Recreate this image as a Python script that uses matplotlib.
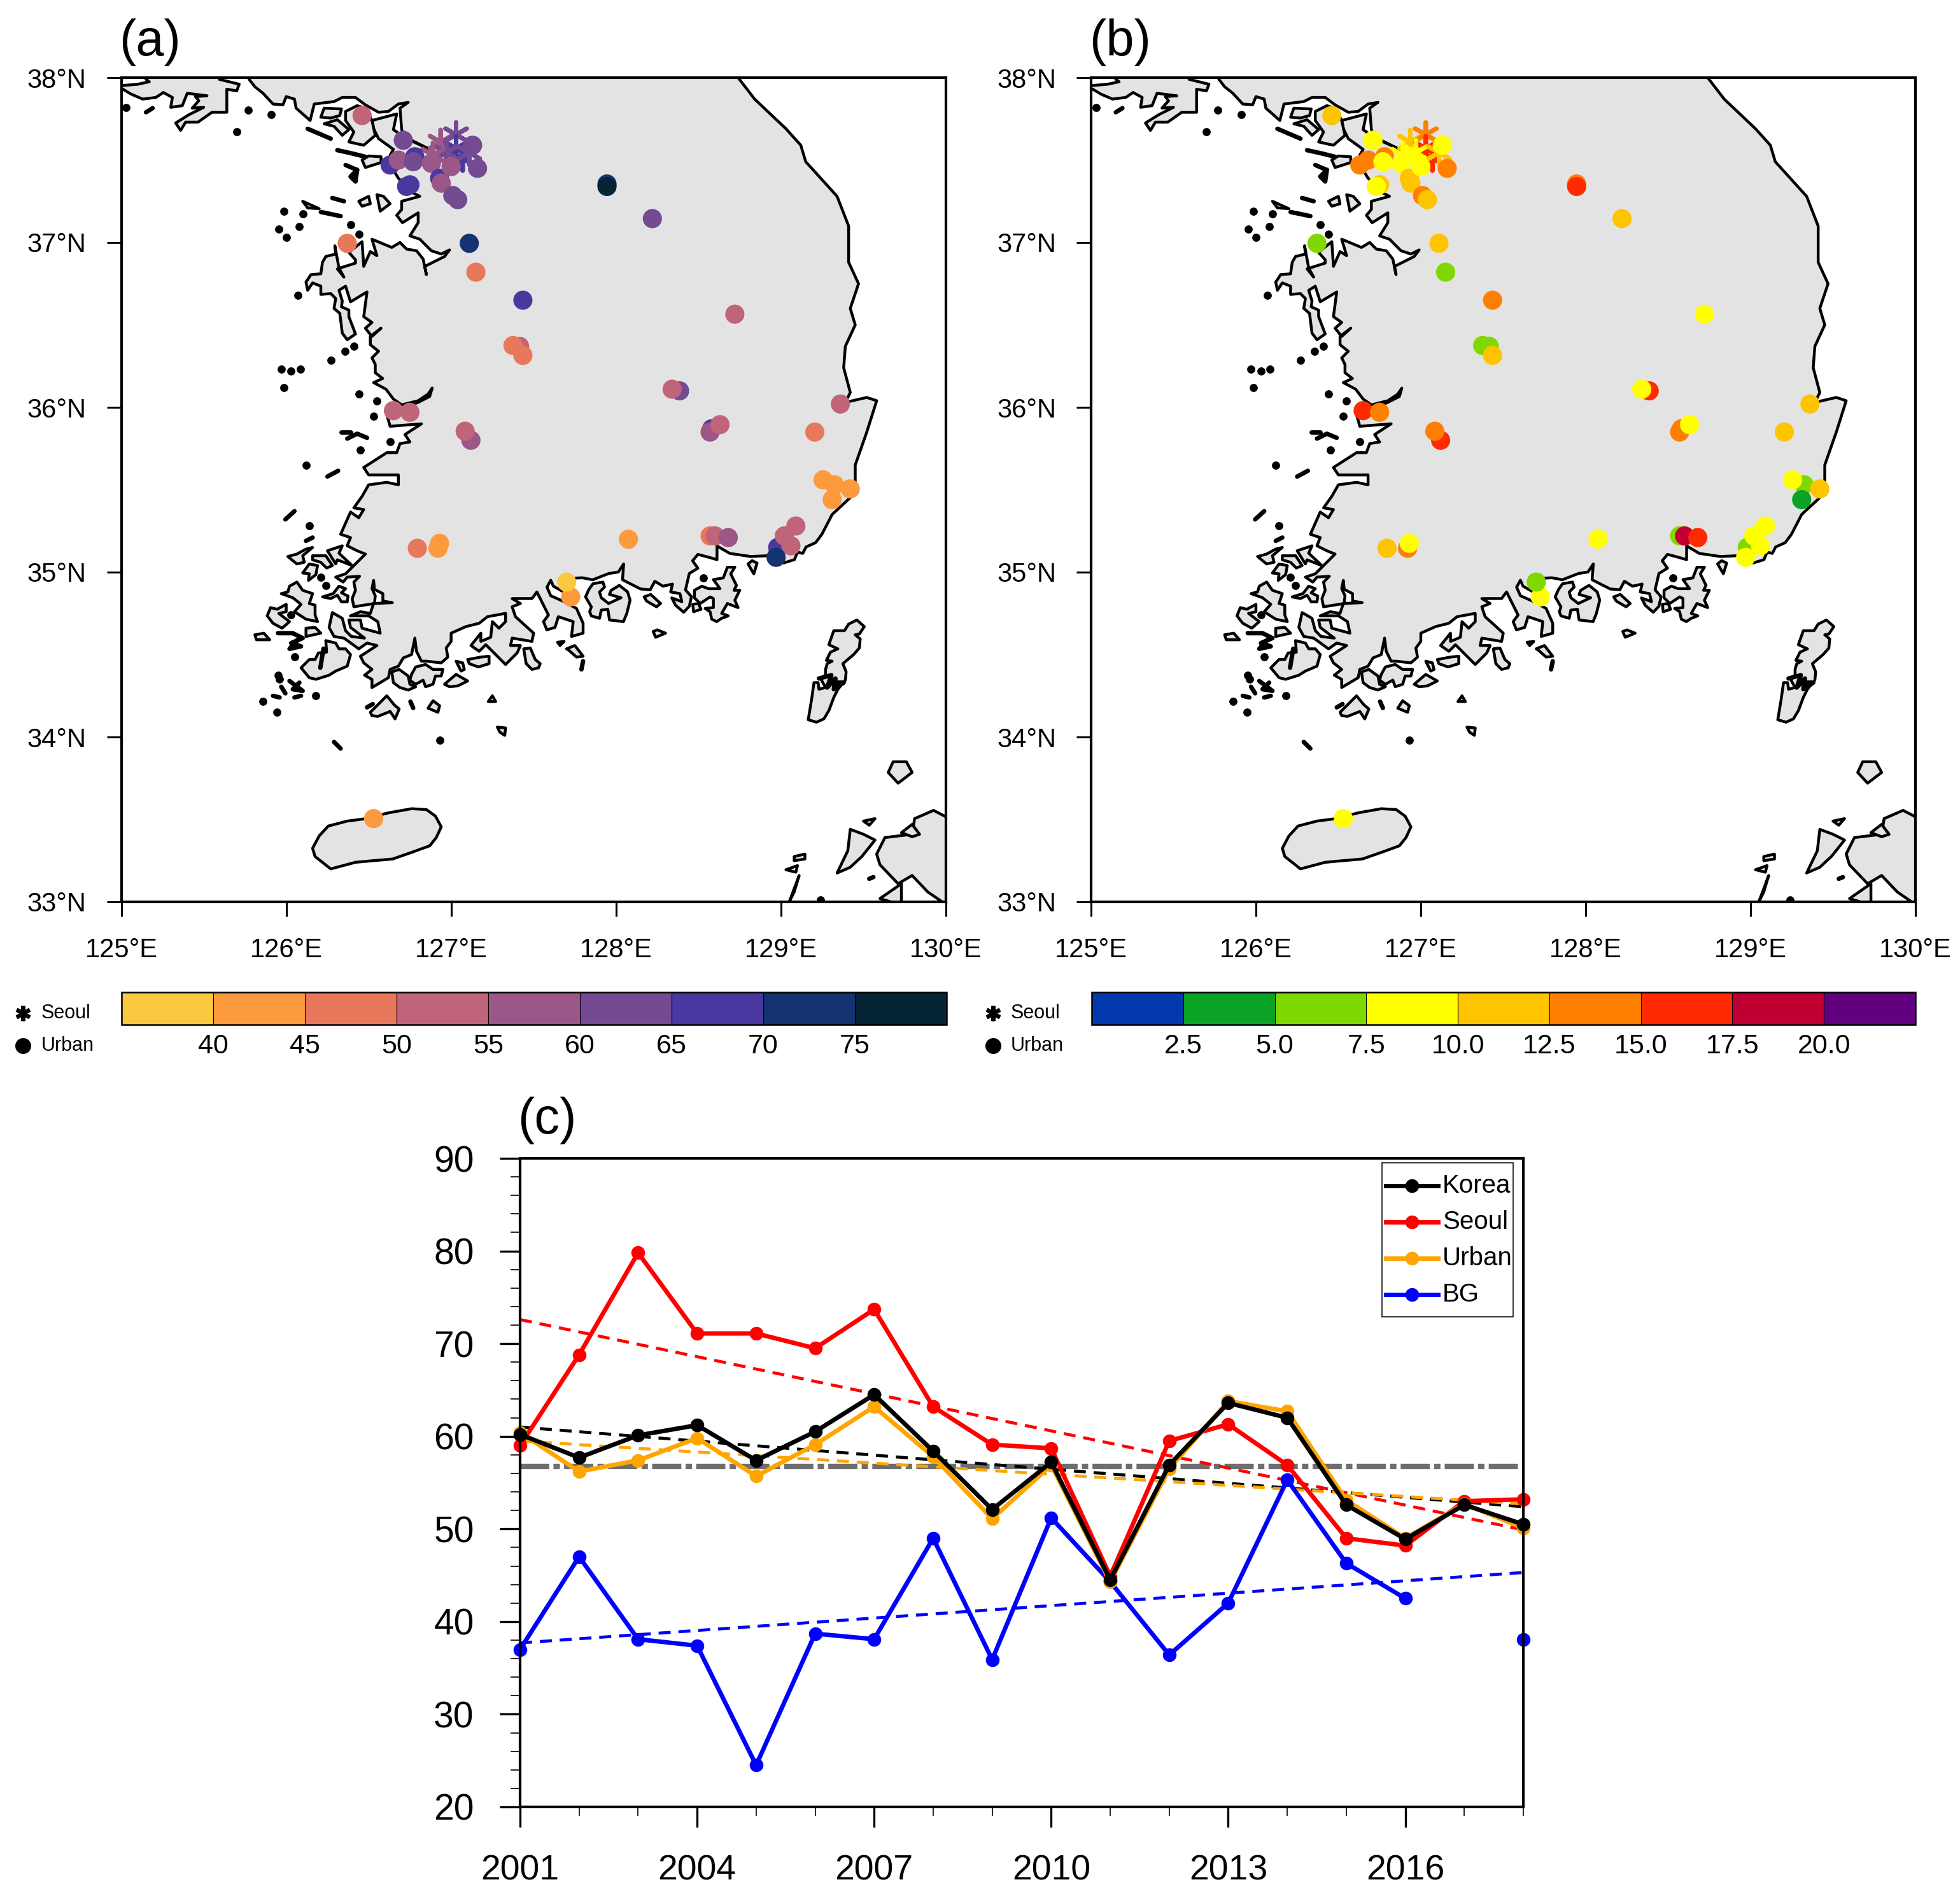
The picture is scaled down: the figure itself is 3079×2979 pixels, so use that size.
import numpy as np
import matplotlib
matplotlib.use('Agg')
import matplotlib.pyplot as plt
from matplotlib.colors import ListedColormap, BoundaryNorm
from matplotlib.colorbar import Colorbar
from matplotlib.lines import Line2D
from matplotlib.patches import Rectangle

plt.rcParams['font.family'] = ['Liberation Sans', 'DejaVu Sans']

W, H = 3079, 2979

# stations: lon, lat, panel a value, panel b value
station_lon = [126.46,126.71,126.63,126.68,126.78,126.77,126.88,126.75,126.73,126.93,126.94,127.00,127.01,127.04,127.13,127.16,
               127.945,127.945,128.22,127.11,126.37,127.15,127.435,128.72,127.415,127.375,127.435,128.385,128.34,129.36,
               126.65,126.75,127.12,127.085,128.58,128.57,128.63,129.205,129.325,129.255,129.42,129.31,
               128.98,129.09,129.02,129.06,128.97,128.075,128.57,128.60,128.68,126.795,126.92,126.93,127.725,127.70,126.53]
station_lat = [37.77,37.62,37.47,37.50,37.52,37.49,37.48,37.35,37.34,37.39,37.36,37.46,37.285,37.26,37.59,37.45,
               37.355,37.34,37.145,36.995,36.995,36.82,36.65,36.565,36.37,36.375,36.315,36.10,36.11,36.02,
               35.98,35.97,35.80,35.855,35.87,35.85,35.895,35.85,35.53,35.56,35.505,35.44,
               35.15,35.28,35.22,35.16,35.09,35.20,35.22,35.22,35.21,35.145,35.145,35.175,34.85,34.94,33.505]
station_a = [52.5,62.5,67.5,57.5,67.5,62.5,57.5,67.5,67.5,67.5,57.5,57.5,62.5,62.5,62.5,62.5,
             72.5,77.5,62.5,72.5,47.5,47.5,67.5,52.5,52.5,47.5,47.5,62.5,52.5,52.5,
             52.5,52.5,57.5,52.5,67.5,57.5,52.5,47.5,42.5,42.5,42.5,42.5,
             67.5,52.5,52.5,52.5,72.5,42.5,47.5,52.5,57.5,47.5,42.5,42.5,42.5,37.5,42.5]
station_b = [11.2,8.8,13.8,13.8,13.8,8.8,8.8,11.2,8.8,11.2,11.2,8.8,13.8,11.2,8.8,13.8,
             13.8,16.2,11.2,11.2,6.2,6.2,13.8,8.8,6.2,6.2,11.2,16.2,8.8,11.2,
             16.2,13.8,16.2,13.8,13.8,13.8,8.8,11.2,6.2,8.8,11.2,3.8,
             6.2,8.8,8.8,8.8,8.8,8.8,6.2,18.8,16.2,11.2,13.8,8.8,8.8,6.2,8.8]

seoul_lon = [126.936,127.03,127.03,127.07,126.97,126.89,127.11]
seoul_lat = [37.609,37.654,37.57,37.51,37.545,37.53,37.545]
seoul_a = [57.5,62.5,67.5,67.5,62.5,57.5,62.5]
seoul_b = [11.2,13.8,16.2,16.2,8.8,8.8,11.2]

bounds_a = [35,40,45,50,55,60,65,70,75,80]
colors_a = ['#F9C940','#FD9A3E','#E8785B','#C06479','#9A5788','#744A92','#4B37A0','#143370','#052435']
ticks_a = [40,45,50,55,60,65,70,75]
bounds_b = [0,2.5,5,7.5,10,12.5,15,17.5,20,22.5]
colors_b = ['#0339AE','#0AA325','#7FD800','#FFFF00','#FFC400','#FF8000','#FF2A00','#C00033','#620080']
ticks_b = [2.5,5,7.5,10,12.5,15,17.5,20]

# coastlines, lon/lat
korea_coast = [(128.74,38.05),(128.74,38.0),(128.84,37.87),(129.03,37.69),(129.12,37.59),(129.15,37.49),(129.34,37.28),(129.41,37.10),
 (129.41,36.88),(129.47,36.75),(129.42,36.60),(129.45,36.50),(129.39,36.37),(129.38,36.24),(129.42,36.09),(129.39,36.03),
 (129.52,36.06),(129.58,36.04),(129.52,35.85),(129.45,35.65),(129.45,35.48),(129.31,35.35),(129.248,35.23),(129.21,35.179),
 (129.152,35.153),(129.132,35.114),(129.10,35.121),(129.081,35.076),(129.017,35.056),(128.946,35.101),(128.817,35.095),
 (128.689,35.114),(128.612,35.159),(128.612,35.076),(128.56,35.091),(128.496,35.108),(128.464,35.069),(128.496,35.024),
 (128.444,34.992),(128.421,34.893),(128.457,34.851),(128.444,34.793),(128.41,34.757),(128.361,34.799),(128.338,34.844),
 (128.399,34.821),(128.387,34.87),(128.331,34.88),(128.342,34.928),(128.284,34.915),(128.235,34.945),(128.207,34.893),
 (128.149,34.898),(128.039,34.954),(128.046,35.05),(128.014,35.001),(127.956,34.992),(127.859,34.954),(127.795,34.966),
 (127.753,34.964),(127.676,34.883),(127.62,34.915),(127.604,34.951),(127.581,34.909),(127.604,34.857),(127.676,34.825),
 (127.76,34.78),(127.80,34.69),(127.80,34.63),(127.73,34.61),(127.74,34.70),(127.65,34.73),(127.63,34.665),(127.58,34.65),
 (127.56,34.70),(127.59,34.74),(127.52,34.88),(127.49,34.84),(127.37,34.84),(127.42,34.81),(127.37,34.79),(127.39,34.73),
 (127.50,34.63),(127.49,34.58),(127.37,34.60),(127.36,34.555),(127.42,34.555),(127.40,34.51),(127.33,34.44),(127.21,34.56),
 (127.17,34.52),(127.12,34.555),(127.18,34.63),(127.18,34.58),(127.24,34.605),(127.25,34.70),(127.29,34.66),(127.33,34.70),
 (127.33,34.75),(127.22,34.73),(127.17,34.69),(127.09,34.67),(127.00,34.63),(127.00,34.58),(126.97,34.54),(126.98,34.485),
 (126.94,34.45),(126.85,34.46),(126.82,34.46),(126.79,34.52),(126.78,34.60),(126.76,34.50),(126.71,34.48),(126.68,34.43),
 (126.63,34.41),(126.62,34.36),(126.52,34.30),(126.52,34.35),(126.475,34.375),(126.52,34.41),(126.47,34.45),(126.45,34.49),
 (126.55,34.555),(126.49,34.57),(126.44,34.535),(126.35,34.60),(126.29,34.61),(126.26,34.665),(126.28,34.755),(126.34,34.72),
 (126.36,34.645),(126.395,34.61),(126.475,34.60),(126.39,34.665),(126.38,34.71),(126.45,34.71),(126.46,34.66),(126.57,34.63),
 (126.555,34.70),(126.50,34.735),(126.39,34.735),(126.45,34.76),(126.51,34.75),(126.53,34.81),(126.644,34.815),(126.586,34.825),
 (126.586,34.87),(126.535,34.896),(126.53,34.95),(126.52,34.90),(126.54,34.857),(126.535,34.81),(126.41,34.79),(126.40,34.84),
 (126.42,34.89),(126.41,34.94),(126.445,34.975),(126.37,34.97),(126.345,34.94),(126.30,34.97),(126.36,34.99),(126.39,35.02),
 (126.48,35.11),(126.43,35.13),(126.37,35.16),(126.39,35.21),(126.33,35.23),(126.39,35.365),(126.44,35.33),(126.47,35.38),
 (126.41,35.39),(126.46,35.46),(126.50,35.53),(126.61,35.545),(126.68,35.53),(126.68,35.59),(126.50,35.59),(126.47,35.635),
 (126.61,35.725),(126.67,35.725),(126.69,35.78),(126.75,35.79),(126.72,35.835),(126.82,35.90),(126.63,35.885),(126.61,35.955),
 (126.71,35.995),(126.80,36.03),(126.87,36.066),(126.885,36.117),(126.86,36.08),(126.80,36.04),(126.70,36.015),(126.65,36.05),
 (126.605,36.11),(126.53,36.15),(126.585,36.175),(126.54,36.21),(126.54,36.26),(126.52,36.30),(126.56,36.34),(126.51,36.38),
 (126.51,36.43),(126.575,36.48),(126.52,36.43),(126.48,36.48),(126.52,36.515),(126.47,36.55),(126.49,36.70),(126.39,36.64),
 (126.36,36.735),(126.32,36.71),(126.34,36.645),(126.335,36.61),(126.38,36.59),(126.38,36.55),(126.42,36.445),(126.37,36.41),
 (126.34,36.45),(126.325,36.57),(126.29,36.60),(126.30,36.66),(126.27,36.69),(126.21,36.685),(126.21,36.735),(126.16,36.755),
 (126.13,36.71),(126.12,36.76),(126.15,36.805),(126.21,36.81),(126.22,36.88),(126.24,36.915),(126.30,36.93),(126.295,36.98),
 (126.32,36.845),(126.35,36.79),(126.31,36.84),(126.42,36.875),(126.42,36.895),(126.38,36.94),(126.46,37.005),(126.47,36.855),
 (126.51,36.945),(126.55,36.92),(126.52,37.02),(126.64,36.97),(126.69,37.00),(126.73,36.96),(126.79,36.95),(126.83,36.90),
 (126.85,36.805),(126.84,36.855),(126.89,36.88),(126.96,36.915),(126.99,36.955),(126.94,36.93),(126.88,36.95),(126.81,37.02),
 (126.75,37.04),(126.80,37.12),(126.80,37.18),(126.705,37.12),(126.67,37.165),(126.70,37.20),(126.70,37.25),(126.81,37.28),
 (126.77,37.30),(126.68,37.39),(126.64,37.455),(126.63,37.53),(126.65,37.565),(126.56,37.63),(126.53,37.69),(126.52,37.74),
 (126.67,37.78),(126.65,37.685),(126.72,37.635),(126.87,37.565),(126.72,37.64),(126.70,37.685),(126.69,37.815),(126.74,37.85),
 (126.68,37.84),(126.62,37.795),(126.56,37.79),(126.48,37.835),(126.42,37.88),(126.34,37.88),(126.29,37.855),(126.17,37.84),
 (126.145,37.74),(126.06,37.815),(126.05,37.87),(126.00,37.885),(125.98,37.835),(125.92,37.84),(125.86,37.905),(125.81,37.945),
 (125.775,37.99),(125.77,38.05)]

north_land = [(125.594,38.05),(125.594,37.99),(125.715,37.96),(125.70,37.92),(125.64,37.93),(125.64,37.79),(125.55,37.79),(125.465,37.73),
 (125.39,37.73),(125.36,37.68),(125.33,37.725),(125.41,37.775),(125.50,37.82),(125.43,37.815),(125.47,37.86),(125.45,37.885),
 (125.52,37.89),(125.40,37.905),(125.37,37.83),(125.30,37.82),(125.31,37.88),(125.255,37.91),(125.21,37.88),(125.13,37.87),
 (125.06,37.90),(125.01,37.93),(124.98,37.935),(124.98,37.95),(125.10,37.96),(125.17,37.975),(125.15,37.99),(125.15,38.05)]

islands = [
 [(126.52,37.74),(126.54,37.65),(126.47,37.59),(126.38,37.61),(126.41,37.67),(126.36,37.74),(126.36,37.795),(126.43,37.83),(126.48,37.815)],
 [(126.21,37.76),(126.23,37.815),(126.335,37.81),(126.325,37.77),(126.27,37.755)],
 [(126.23,37.72),(126.31,37.745),(126.38,37.685),(126.34,37.65),(126.29,37.705)],
 [(126.50,37.525),(126.575,37.52),(126.575,37.485),(126.48,37.455),(126.46,37.50)],
 [(126.44,37.25),(126.50,37.28),(126.51,37.235),(126.46,37.22)],
 [(126.55,37.29),(126.59,37.28),(126.63,37.235),(126.57,37.19)],
 [(126.10,37.25),(126.20,37.205),(126.13,37.21)],
 [(126.25,35.13),(126.34,35.16),(126.32,35.115),(126.40,35.04),(126.31,35.075),(126.30,35.05)],
 [(126.01,35.095),(126.065,35.11),(126.12,35.14),(126.16,35.15),(126.10,35.10),(126.11,35.06),(126.065,35.05),(126.04,35.07)],
 [(126.16,35.10),(126.24,35.10),(126.28,35.04),(126.245,35.025),(126.21,35.06),(126.16,35.075)],
 [(126.10,34.995),(126.14,35.05),(126.19,35.04),(126.18,34.985),(126.135,34.95),(126.14,34.99)],
 [(126.22,34.85),(126.285,34.87),(126.32,34.915),(126.36,34.90),(126.335,34.875),(126.375,34.855),(126.37,34.82),(126.335,34.82),(126.31,34.86),(126.27,34.84)],
 [(125.97,34.87),(126.01,34.88),(126.02,34.915),(126.065,34.94),(126.10,34.89),(126.16,34.87),(126.14,34.81),(126.175,34.80),(126.175,34.74),(126.19,34.70),(126.12,34.715),(126.05,34.76),(126.09,34.805),(126.04,34.845)],
 [(125.885,34.735),(125.905,34.785),(125.945,34.775),(126.00,34.805),(126.00,34.76),(125.955,34.75),(126.02,34.70),(125.975,34.66),(125.92,34.69)],
 [(126.12,34.61),(126.12,34.66),(126.175,34.665),(126.21,34.63)],
 [(126.09,34.42),(126.14,34.47),(126.175,34.47),(126.195,34.51),(126.245,34.515),(126.24,34.585),(126.30,34.57),(126.32,34.535),(126.36,34.535),(126.39,34.50),(126.37,34.43),(126.30,34.40),(126.26,34.375),(126.18,34.35),(126.14,34.36),(126.115,34.39)],
 [(125.81,34.62),(125.865,34.63),(125.90,34.59),(125.82,34.59)],
 [(126.64,34.395),(126.685,34.41),(126.74,34.37),(126.75,34.32),(126.785,34.305),(126.74,34.285),(126.69,34.30),(126.65,34.33)],
 [(126.76,34.38),(126.785,34.425),(126.845,34.44),(126.89,34.41),(126.95,34.41),(126.94,34.37),(126.905,34.37),(126.89,34.32),(126.845,34.305),(126.83,34.345),(126.785,34.32),(126.75,34.345)],
 [(126.96,34.32),(127.03,34.38),(127.10,34.34),(127.04,34.31),(126.99,34.305)],
 [(127.03,34.46),(127.07,34.45),(127.08,34.41),(127.06,34.40)],
 [(127.10,34.47),(127.18,34.485),(127.23,34.49),(127.23,34.445),(127.165,34.425),(127.11,34.445)],
 [(127.44,34.535),(127.48,34.54),(127.51,34.47),(127.54,34.445),(127.53,34.42),(127.49,34.41),(127.455,34.445)],
 [(127.645,34.575),(127.685,34.58),(127.66,34.555)],
 [(127.70,34.535),(127.75,34.555),(127.80,34.49),(127.76,34.485),(127.715,34.525)],
 [(126.51,34.15),(126.56,34.20),(126.61,34.25),(126.655,34.195),(126.685,34.17),(126.66,34.11),(126.63,34.155),(126.555,34.125),(126.52,34.13)],
 [(126.86,34.175),(126.89,34.22),(126.93,34.19),(126.92,34.15)],
 [(127.225,34.215),(127.25,34.25),(127.27,34.215)],
 [(127.28,34.06),(127.33,34.055),(127.325,34.01),(127.295,34.03)],
 [(127.86,34.93),(127.92,34.94),(127.93,34.91),(127.90,34.88),(127.91,34.845),(127.955,34.81),(128.03,34.845),(127.96,34.865),(127.97,34.89),(128.02,34.92),(128.07,34.88),(128.085,34.83),(128.065,34.75),(128.045,34.70),(127.96,34.71),(127.95,34.775),(127.91,34.77),(127.90,34.72),(127.85,34.735),(127.84,34.76),(127.85,34.79),(127.815,34.85),(127.835,34.895)],
 [(128.675,35.03),(128.72,35.03),(128.695,34.99),(128.73,34.92),(128.715,34.89),(128.75,34.89),(128.72,34.83),(128.74,34.785),(128.675,34.81),(128.64,34.75),(128.68,34.735),(128.64,34.72),(128.61,34.70),(128.58,34.715),(128.57,34.76),(128.54,34.78),(128.59,34.785),(128.59,34.84),(128.57,34.85),(128.51,34.81),(128.475,34.845),(128.475,34.89),(128.52,34.915),(128.56,34.90),(128.63,34.90),(128.59,34.955),(128.65,34.965)],
 [(128.465,34.805),(128.50,34.81),(128.515,34.775),(128.47,34.76)],
 [(128.825,35.07),(128.855,35.055),(128.835,34.99),(128.80,35.05)],
 [(128.17,34.85),(128.21,34.865),(128.27,34.81),(128.245,34.79),(128.185,34.825)],
 [(128.225,34.64),(128.25,34.65),(128.30,34.63),(128.24,34.605)],
 [(129.165,34.105),(129.185,34.225),(129.20,34.33),(129.225,34.33),(129.23,34.29),(129.27,34.30),(129.24,34.355),(129.27,34.375),(129.27,34.41),(129.28,34.445),(129.31,34.46),(129.275,34.465),(129.30,34.515),(129.345,34.535),(129.29,34.56),(129.32,34.645),(129.385,34.645),(129.41,34.685),(129.46,34.71),(129.505,34.67),(129.475,34.625),(129.45,34.62),(129.48,34.595),(129.475,34.54),(129.44,34.50),(129.375,34.445),(129.395,34.395),(129.39,34.345),(129.345,34.29),(129.32,34.24),(129.29,34.16),(129.26,34.11),(129.215,34.09)],
 [(129.65,33.785),(129.68,33.85),(129.76,33.85),(129.795,33.785),(129.71,33.72)],
 [(130.05,33.49),(129.925,33.555),(129.81,33.505),(129.795,33.41),(129.63,33.39),(129.58,33.29),(129.60,33.225),(129.71,33.11),(129.795,33.16),(129.89,33.06),(130.05,32.95)],
 [(129.42,33.44),(129.50,33.41),(129.57,33.375),(129.49,33.275),(129.42,33.21),(129.34,33.175),(129.405,33.31)],
 [(129.50,33.49),(129.57,33.505),(129.535,33.465)],
 [(129.73,33.42),(129.795,33.47),(129.84,33.41),(129.795,33.395)],
 [(129.05,33.0),(129.11,33.16),(129.08,33.06)],
 [(129.08,33.275),(129.145,33.29),(129.145,33.26),(129.08,33.25)],
 [(129.03,33.195),(129.10,33.22),(129.09,33.18)],
 [(129.60,33.02),(129.73,33.11),(129.73,32.98)],
 [(126.16,33.325),(126.20,33.40),(126.255,33.46),(126.37,33.49),(126.485,33.505),(126.62,33.54),(126.76,33.565),(126.85,33.56),(126.905,33.52),(126.94,33.455),(126.91,33.39),(126.87,33.34),(126.76,33.30),(126.645,33.26),(126.53,33.25),(126.42,33.24),(126.27,33.20),(126.175,33.275)],
]

islet_lines = [
 [(126.31,37.56),(126.40,37.54),(126.48,37.52)],
 [(126.13,37.69),(126.20,37.66),(126.27,37.63)],
 [(126.36,37.47),(126.43,37.44),(126.42,37.37),(126.39,37.40),(126.43,37.44)],
 [(126.28,37.27),(126.35,37.25)],
 [(126.21,37.185),(126.33,37.16)],
 [(125.19,37.815),(125.15,37.79)],
 [(126.25,35.58),(126.315,35.615)],
 [(125.995,35.32),(126.05,35.37)],
 [(126.12,35.19),(126.16,35.21)],
 [(126.335,35.85),(126.39,35.85)],
 [(126.37,35.81),(126.43,35.84),(126.49,35.815)],
 [(126.226,34.536),(126.207,34.42)],
 [(125.95,34.63),(126.04,34.63),(126.10,34.60),(126.03,34.57),(126.09,34.55),(126.02,34.535),(126.07,34.59)],
 [(127.80,34.46),(127.79,34.41)],
 [(126.49,34.18),(126.525,34.20)],
 [(126.753,34.215),(126.77,34.176)],
 [(126.29,33.97),(126.33,33.93)],
 [(126.02,34.34),(126.10,34.28),(126.04,34.29),(126.08,34.33)],
 [(125.97,34.305),(125.995,34.265)],
 [(125.92,34.25),(125.96,34.24)],
 [(126.05,34.24),(126.09,34.25)],
 [(129.23,34.355),(129.305,34.375),(129.28,34.30),(129.33,34.355),(129.32,34.29),(129.38,34.33),(129.30,34.33)],
 [(129.535,33.14),(129.56,33.15)],
]

islet_lon = [125.03,125.77,125.91,125.70,125.985,126.10,125.955,126.08,126.39,126.44,126.00,126.07,126.41,126.355,126.27,125.97,126.03,126.085,125.985,
             126.44,126.55,126.53,126.45,126.63,126.12,126.14,126.05,126.03,126.21,126.24,128.53,126.93,125.95,125.96,126.18,125.86,125.945,129.24]
islet_lat = [37.82,37.805,37.775,37.67,37.19,37.175,37.08,37.095,37.11,37.05,37.03,36.68,36.37,36.34,36.285,36.23,36.22,36.23,36.12,
             36.08,36.04,35.945,35.74,35.79,35.65,35.28,34.485,34.74,34.97,34.92,34.965,33.98,34.375,34.35,34.25,34.215,34.15,33.01]

# panel c
years = list(range(2001, 2019))
korea = [60.2,57.7,60.1,61.2,57.4,60.5,64.5,58.4,52.1,57.2,44.5,56.9,63.6,62.0,52.6,48.9,52.6,50.5]
seoul = [59.0,68.8,79.8,71.1,71.1,69.5,73.7,63.2,59.1,58.7,44.9,59.5,61.3,56.9,49.0,48.2,53.0,53.2]
urban = [60.4,56.2,57.4,59.8,55.7,59.1,63.2,57.8,51.1,56.9,44.3,56.5,63.8,62.7,53.1,49.0,52.7,50.1]
bg = [37.0,47.0,38.1,37.4,24.5,38.7,38.1,49.0,35.9,51.2,44.3,36.4,42.0,55.3,46.3,42.5,np.nan,38.1]
trend_years = [2001, 2018]
korea_trend = [61.0, 52.4]
seoul_trend = [72.6, 49.9]
urban_trend = [59.5, 52.7]
bg_trend = [37.7, 45.3]
mean_line = [56.75, 56.75]
legend_names = ['Korea', 'Seoul', 'Urban', 'BG']
legend_colors = ['black', 'red', 'orange', 'blue']

GRAY = '#E3E3E3'


def px_axes(fig, left, right, top, bottom):
    return fig.add_axes([left / W, 1 - bottom / H, (right - left) / W, (bottom - top) / H])


def draw_map(ax, values, seoul_values, cmap, norm):
    for poly in [north_land, korea_coast] + islands:
        xs, ys = zip(*poly)
        ax.fill(xs, ys, facecolor=GRAY, edgecolor='black', linewidth=3.2, joinstyle='round', zorder=2)
    for line in islet_lines:
        xs, ys = zip(*line)
        ax.plot(xs, ys, color='black', linewidth=5, solid_capstyle='round', zorder=2)
    ax.scatter(islet_lon, islet_lat, s=85, color='black', linewidths=0, zorder=2)
    ax.scatter(seoul_lon, seoul_lat, c=seoul_values, cmap=cmap, norm=norm, marker=(6, 2, 0), s=760, linewidths=5, zorder=3)
    ax.scatter(station_lon, station_lat, c=values, cmap=cmap, norm=norm, s=470, linewidths=0, zorder=4)
    ax.set_xlim(125, 130)
    ax.set_ylim(33, 38)
    ax.set_xticks(range(125, 131))
    ax.set_xticklabels(['%d°E' % v for v in range(125, 131)])
    ax.set_yticks(range(33, 39))
    ax.set_yticklabels(['%d°N' % v for v in range(33, 39)])
    ax.tick_params(axis='x', length=16.5, width=2.2, labelsize=30, pad=24)
    ax.tick_params(axis='y', length=16.5, width=2.2, labelsize=30, pad=23)
    for s in ax.spines.values():
        s.set_linewidth(3)
        s.set_zorder(6)


def draw_bar(fig, left, right, colors, bounds, ticks, fmt):
    cax = px_axes(fig, left, right, 1559, 1610)
    cmap = ListedColormap(colors)
    norm = BoundaryNorm(bounds, cmap.N)
    cb = Colorbar(cax, cmap=cmap, norm=norm, orientation='horizontal', ticks=ticks, spacing='proportional', drawedges=True)
    cb.ax.set_xticklabels([fmt % t for t in ticks])
    cb.ax.tick_params(axis='x', which='both', length=0, labelsize=31, pad=10)
    cb.ax.minorticks_off()
    cb.outline.set_linewidth(1.8)
    cb.dividers.set_linewidth(0.8)
    cb.dividers.set_color('black')


def side_key(fig, x_mark, x_text):
    fig.add_artist(Line2D([x_mark / W], [1 - 1592 / H], marker=(6, 2, 0), markersize=17, markeredgewidth=4.5,
                          color='black', linestyle='none', transform=fig.transFigure))
    fig.add_artist(Line2D([x_mark / W], [1 - 1643 / H], marker='o', markersize=18, markeredgewidth=0,
                          color='black', linestyle='none', transform=fig.transFigure))
    fig.text(x_text / W, 1 - 1592 / H, 'Seoul', fontsize=22, ha='left', va='center')
    fig.text(x_text / W, 1 - 1643 / H, 'Urban', fontsize=22, ha='left', va='center')


fig = plt.figure(figsize=(W / 100, H / 100), dpi=100)

cmap_a = ListedColormap(colors_a)
norm_a = BoundaryNorm(bounds_a, cmap_a.N)
cmap_b = ListedColormap(colors_b)
norm_b = BoundaryNorm(bounds_b, cmap_b.N)

ax_a = px_axes(fig, 190.5, 1486, 122, 1417)
draw_map(ax_a, station_a, seoul_a, cmap_a, norm_a)
ax_b = px_axes(fig, 1714, 3009, 122, 1417)
draw_map(ax_b, station_b, seoul_b, cmap_b, norm_b)

draw_bar(fig, 191, 1487, colors_a, bounds_a, ticks_a, '%d')
draw_bar(fig, 1715, 3009, colors_b, bounds_b, ticks_b, '%.1f')
side_key(fig, 36, 65)
side_key(fig, 1560, 1588)

fig.text(187 / W, 1 - 66 / H, '(a)', fontsize=57, ha='left', va='center')
fig.text(1711 / W, 1 - 66 / H, '(b)', fontsize=57, ha='left', va='center')
fig.text(813 / W, 1 - 1761 / H, '(c)', fontsize=57, ha='left', va='center')

# time series
ax = px_axes(fig, 817, 2393, 1820, 2839)
ax.plot(trend_years, mean_line, color='#6E6E6E', linewidth=6, dashes=(5.5, 0.8, 1.2, 0.8), zorder=1)
ax.plot(trend_years, korea_trend, color='black', linewidth=3.4, dashes=(4, 2.6), zorder=1.5)
ax.plot(trend_years, seoul_trend, color='red', linewidth=3.4, dashes=(4, 2.6), zorder=1.5)
ax.plot(trend_years, urban_trend, color='orange', linewidth=3.4, dashes=(4, 2.6), zorder=1.5)
ax.plot(trend_years, bg_trend, color='blue', linewidth=3.4, dashes=(4, 2.6), zorder=1.5)
ax.plot(years, bg, '-o', color='blue', linewidth=5, markersize=14.5, clip_on=False, zorder=2)
ax.plot(years, seoul, '-o', color='red', linewidth=5, markersize=14.5, clip_on=False, zorder=3)
ax.plot(years, urban, '-o', color='orange', linewidth=5, markersize=14.5, clip_on=False, zorder=4)
ax.plot(years, korea, '-o', color='black', linewidth=5, markersize=14.5, clip_on=False, zorder=5)
ax.set_xlim(2001, 2018)
ax.set_ylim(20, 90)
ax.set_xticks(range(2001, 2017, 3))
ax.set_xticks(years, minor=True)
ax.set_yticks(range(20, 100, 10))
ax.set_yticks(range(20, 92, 2), minor=True)
ax.tick_params(axis='x', which='major', length=23, width=2.4, labelsize=40, pad=31)
ax.tick_params(axis='x', which='minor', length=10, width=1.2)
ax.tick_params(axis='y', which='major', length=23, width=2.4, labelsize=41, pad=29)
ax.tick_params(axis='y', which='minor', length=11, width=1.2)
for s in ax.spines.values():
    s.set_linewidth(3)
    s.set_zorder(6)

# legend box laid out by hand to sit where it does in the figure
fig.add_artist(Rectangle((2171 / W, 1 - 2069 / H), 206 / W, 242 / H, transform=fig.transFigure,
                         facecolor='white', edgecolor='black', linewidth=1.1, zorder=5))
for i, (name, color) in enumerate(zip(legend_names, legend_colors)):
    y = 1 - (1863 + 57 * i) / H
    fig.add_artist(Line2D([2177 / W, 2259 / W], [y, y], color=color, linewidth=5, zorder=6, transform=fig.transFigure))
    fig.add_artist(Line2D([2218 / W], [y], color=color, marker='o', markersize=14.5, linestyle='none', zorder=6,
                          transform=fig.transFigure))
    fig.text(2266 / W, y, name, fontsize=29, ha='left', va='center', zorder=7)

fig.savefig('out.png', dpi=100)
